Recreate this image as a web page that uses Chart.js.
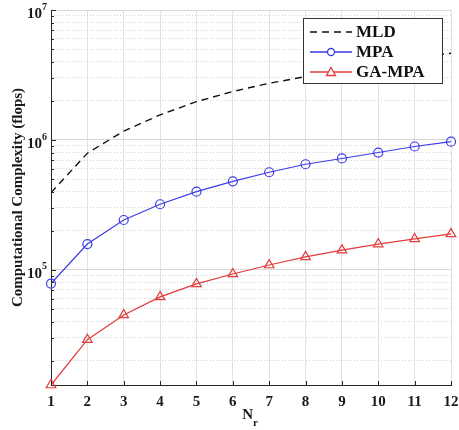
<!DOCTYPE html>
<html>
<head>
<meta charset="utf-8">
<script src="https://cdn.jsdelivr.net/npm/chart.js@4.4.0/dist/chart.umd.min.js"></script>
<style>
  html, body { margin: 0; padding: 0; background: #fff; }
</style>
</head>
<body>
<canvas id="myChart" width="459" height="430"></canvas>
<script>
// values (flops vs N_r)
const nr = [1, 2, 3, 4, 5, 6, 7, 8, 9, 10, 11, 12];
const mld = [3.93e5, 7.9e5, 1.17e6, 1.56e6, 1.97e6, 2.36e6, 2.73e6, 3.07e6, 3.5e6, 3.9e6, 4.3e6, 4.65e6];
const mpa = [7.85e4, 1.58e5, 2.42e5, 3.2e5, 4.0e5, 4.8e5, 5.64e5, 6.5e5, 7.2e5, 8.0e5, 8.9e5, 9.7e5];
const gaMpa = [1.3e4, 2.9e4, 4.5e4, 6.2e4, 7.8e4, 9.3e4, 1.09e5, 1.26e5, 1.42e5, 1.58e5, 1.73e5, 1.89e5];
const decades = [1e5, 1e6, 1e7];
const yMin = 1.3e4;
const yMax = 1e7;

const SERIF = '"Liberation Serif", "Times New Roman", serif';
const AXIS = "#262626";
const BLUE = "#3d3de6";
const RED = "#e23c3c";

const logTicks = () => {
  const t = [];
  for (let e = 4; e < 7; e++) {
    for (let m = 1; m < 10; m++) {
      const v = m * Math.pow(10, e);
      if (v >= yMin) t.push(v);
    }
  }
  t.push(1e7);
  return t.map((v) => ({ value: v }));
};

// labels, inward ticks, titles and the legend box
const decor = {
  id: "decor",
  afterDraw(chart) {
    const { ctx, chartArea: a, scales } = chart;
    const x = scales.x;
    const y = scales.y;
    ctx.save();
    ctx.strokeStyle = AXIS;
    ctx.lineWidth = 1;

    // inward tick marks
    ctx.beginPath();
    y.ticks.forEach((t) => {
      const py = Math.round(y.getPixelForValue(t.value)) + 0.5;
      const len = decades.includes(t.value) ? 5 : 3;
      ctx.moveTo(a.left, py);
      ctx.lineTo(a.left + len, py);
    });
    nr.forEach((_, i) => {
      const px = Math.round(x.getPixelForValue(i)) + 0.5;
      ctx.moveTo(px, a.bottom);
      ctx.lineTo(px, a.bottom - 4);
    });
    ctx.stroke();

    // y tick labels 10^n
    ctx.fillStyle = "#1a1a1a";
    decades.forEach((v) => {
      const py = y.getPixelForValue(v);
      const exp = String(Math.round(Math.log10(v)));
      ctx.font = "bold 15px " + SERIF;
      ctx.textAlign = "right";
      ctx.textBaseline = "middle";
      ctx.fillText("10", 42, py + 4);
      ctx.font = "bold 10px " + SERIF;
      ctx.textAlign = "left";
      ctx.fillText(exp, 42, py - 3);
    });

    // y title
    ctx.save();
    ctx.translate(18, (a.top + a.bottom) / 2);
    ctx.rotate(-Math.PI / 2);
    ctx.font = "bold 15px " + SERIF;
    ctx.textAlign = "center";
    ctx.textBaseline = "middle";
    ctx.fillText("Computational Complexity (flops)", 0, 0);
    ctx.restore();

    // x title N_r
    const cx = (a.left + a.right) / 2;
    ctx.font = "bold 15px " + SERIF;
    ctx.textAlign = "right";
    ctx.textBaseline = "middle";
    ctx.fillText("N", cx + 2, 415);
    ctx.font = "bold 11px " + SERIF;
    ctx.textAlign = "left";
    ctx.fillText("r", cx + 2, 423);

    // legend
    const lx = 303, ly = 18, lw = 139, lh = 65;
    ctx.fillStyle = "#fff";
    ctx.fillRect(lx, ly, lw, lh);
    ctx.strokeStyle = "#333";
    ctx.strokeRect(lx + 0.5, ly + 0.5, lw, lh);
    chart.data.datasets.forEach((ds, i) => {
      const ry = ly + 14 + i * 20;
      ctx.strokeStyle = ds.borderColor;
      ctx.lineWidth = 1.3;
      ctx.setLineDash(ds.borderDash || []);
      ctx.beginPath();
      ctx.moveTo(310, ry);
      ctx.lineTo(352, ry);
      ctx.stroke();
      ctx.setLineDash([]);
      if (ds.pointStyle === "circle") {
        ctx.beginPath();
        ctx.arc(331, ry, 3.5, 0, Math.PI * 2);
        ctx.fillStyle = "#fff";
        ctx.fill();
        ctx.stroke();
      } else if (ds.pointStyle === "triangle") {
        ctx.beginPath();
        ctx.moveTo(331, ry - 4.5);
        ctx.lineTo(335.5, ry + 3.5);
        ctx.lineTo(326.5, ry + 3.5);
        ctx.closePath();
        ctx.fillStyle = "#fff";
        ctx.fill();
        ctx.stroke();
      }
      ctx.fillStyle = "#111";
      ctx.font = "bold 17px " + SERIF;
      ctx.textAlign = "left";
      ctx.textBaseline = "middle";
      ctx.fillText(ds.label, 356, ry + 1);
    });
    ctx.restore();
  },
};

const chart = new Chart(document.getElementById("myChart"), {
  type: "line",
  data: {
    labels: nr,
    datasets: [
      {
        label: "MLD",
        data: mld,
        borderColor: "#111",
        borderWidth: 1.4,
        borderDash: [7, 5],
        pointRadius: 0,
        pointStyle: false,
        tension: 0,
        clip: false,
      },
      {
        label: "MPA",
        data: mpa,
        borderColor: BLUE,
        borderWidth: 1.2,
        pointStyle: "circle",
        pointRadius: 4.5,
        pointBorderWidth: 1.2,
        pointBackgroundColor: "rgba(0,0,0,0)",
        pointBorderColor: BLUE,
        tension: 0,
        clip: false,
      },
      {
        label: "GA-MPA",
        data: gaMpa,
        borderColor: RED,
        borderWidth: 1.2,
        pointStyle: "triangle",
        pointRadius: 5.5,
        pointBorderWidth: 1.2,
        pointBackgroundColor: "rgba(0,0,0,0)",
        pointBorderColor: RED,
        tension: 0,
        clip: false,
      },
    ],
  },
  options: {
    responsive: false,
    animation: false,
    layout: { padding: { top: 10, right: 0, left: 0, bottom: 0 } },
    plugins: { legend: { display: false }, tooltip: { enabled: false } },
    scales: {
      x: {
        type: "category",
        offset: false,
        grid: { color: "#e2e2e2", drawTicks: false },
        border: { color: AXIS },
        ticks: {
          color: "#1a1a1a",
          font: { family: SERIF, size: 15, weight: "bold" },
          padding: 8,
          maxRotation: 0,
          autoSkip: false,
        },
        afterFit: (s) => { s.height = 45; s.paddingRight = 8; },
      },
      y: {
        type: "logarithmic",
        position: "left",
        min: yMin,
        max: yMax,
        afterBuildTicks: (s) => { s.ticks = logTicks(); },
        grid: {
          drawTicks: false,
          color: (c) => (c.tick && decades.includes(c.tick.value) ? "#d8d8d8" : "rgba(0,0,0,0)"),
        },
        border: { color: AXIS },
        ticks: { display: false },
        afterFit: (s) => { s.width = 51; },
      },
      yMinor: {
        type: "logarithmic",
        position: "left",
        min: yMin,
        max: yMax,
        afterBuildTicks: (s) => { s.ticks = logTicks(); },
        grid: {
          drawTicks: false,
          color: (c) => (c.tick && decades.includes(c.tick.value) ? "rgba(0,0,0,0)" : "#d2d2d2"),
        },
        border: { display: false, dash: [1, 2] },
        ticks: { display: false },
        afterFit: (s) => { s.width = 0; },
      },
    },
  },
  plugins: [decor],
});
</script>
</body>
</html>
